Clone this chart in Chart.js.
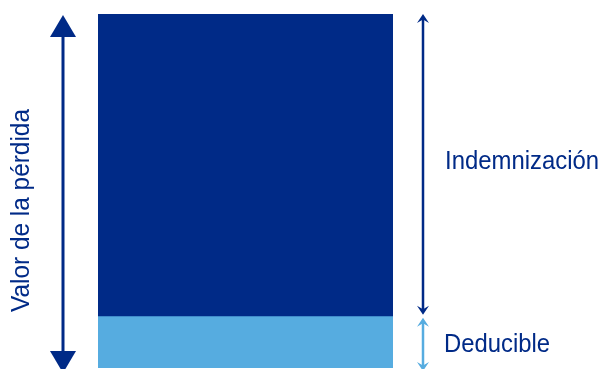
<!DOCTYPE html>
<html>
<head>
<meta charset="utf-8">
<script src="https://cdn.jsdelivr.net/npm/chart.js@4/dist/chart.umd.min.js"></script>
<style>
  html, body { margin: 0; padding: 0; background: #fff; }
  #wrap { width: 602px; height: 369px; position: relative; }
</style>
</head>
<body>
<div id="wrap"><canvas id="chart"></canvas></div>
<script>
const categories = ['Pérdida'];
const deducible = [14.5];
const indemnizacion = [85.5];
const seriesLabels = ['Deducible', 'Indemnización'];
const axisTitle = 'Valor de la pérdida';

const navy = '#002a87';
const lightBlue = '#56ace0';
const labelFont = '26px "Liberation Sans", Arial, sans-serif';

// draw text squeezed to a given width (the original uses a condensed face)
function fitText(ctx, text, x, y, width) {
    const w = ctx.measureText(text).width;
    ctx.save();
    ctx.translate(x, y);
    ctx.scale(width / w, 1);
    ctx.fillText(text, 0, 0);
    ctx.restore();
}

function bigHead(ctx, x, tipY, dir) {
    ctx.beginPath();
    ctx.moveTo(x, tipY);
    ctx.lineTo(x - 13, tipY + dir * 22);
    ctx.lineTo(x + 13, tipY + dir * 22);
    ctx.closePath();
    ctx.fill();
}

function smallHead(ctx, x, tipY, dir) {
    ctx.beginPath();
    ctx.moveTo(x, tipY);
    ctx.lineTo(x + 6, tipY + dir * 9);
    ctx.lineTo(x, tipY + dir * 5.5);
    ctx.lineTo(x - 6, tipY + dir * 9);
    ctx.closePath();
    ctx.fill();
}

const arrowsPlugin = {
    id: 'arrows',
    afterDraw(chart) {
        const ctx = chart.ctx;
        const y = chart.scales.y;
        const area = chart.chartArea;
        const yTop = y.getPixelForValue(deducible[0] + indemnizacion[0]);
        const yMid = y.getPixelForValue(deducible[0]);
        const yBot = y.getPixelForValue(0);

        ctx.save();
        // left double arrow
        const lx = area.left - 35;
        ctx.fillStyle = navy;
        ctx.strokeStyle = navy;
        ctx.lineWidth = 3;
        ctx.beginPath();
        ctx.moveTo(lx, yTop + 20);
        ctx.lineTo(lx, yBot - 15);
        ctx.stroke();
        bigHead(ctx, lx, yTop + 1, 1);
        bigHead(ctx, lx, yBot + 5, -1);

        // right arrows
        const rx = area.right + 30;
        ctx.lineWidth = 2.5;
        ctx.beginPath();
        ctx.moveTo(rx, yTop + 5);
        ctx.lineTo(rx, yMid - 7);
        ctx.stroke();
        smallHead(ctx, rx, yTop, 1);
        smallHead(ctx, rx, yMid - 2, -1);

        ctx.fillStyle = lightBlue;
        ctx.strokeStyle = lightBlue;
        ctx.beginPath();
        ctx.moveTo(rx, yMid + 6);
        ctx.lineTo(rx, yBot);
        ctx.stroke();
        smallHead(ctx, rx, yMid + 1, 1);
        smallHead(ctx, rx, yBot + 3, -1);

        // labels
        ctx.fillStyle = navy;
        ctx.font = labelFont;
        ctx.textBaseline = 'alphabetic';
        ctx.textAlign = 'left';
        fitText(ctx, seriesLabels[1], rx + 22, (yTop + yMid) / 2 + 4, 154);
        fitText(ctx, seriesLabels[0], rx + 21, (yMid + yBot) / 2 + 10, 106);

        ctx.translate(area.left - 69, (yTop + yBot) / 2 + 121);
        ctx.rotate(-Math.PI / 2);
        fitText(ctx, axisTitle, 0, 0, 203);
        ctx.restore();
    }
};

new Chart(document.getElementById('chart'), {
    type: 'bar',
    data: {
        labels: categories,
        datasets: [
            { label: seriesLabels[0], data: deducible, backgroundColor: lightBlue },
            { label: seriesLabels[1], data: indemnizacion, backgroundColor: navy }
        ]
    },
    options: {
        responsive: true,
        maintainAspectRatio: false,
        animation: false,
        layout: { padding: { left: 98, right: 209, top: 14, bottom: 1 } },
        datasets: { bar: { barPercentage: 1, categoryPercentage: 1 } },
        scales: {
            x: { stacked: true, display: false },
            y: { stacked: true, display: false, min: 0, max: 100 }
        },
        plugins: { legend: { display: false }, tooltip: { enabled: false } }
    },
    plugins: [arrowsPlugin]
});
</script>
</body>
</html>
